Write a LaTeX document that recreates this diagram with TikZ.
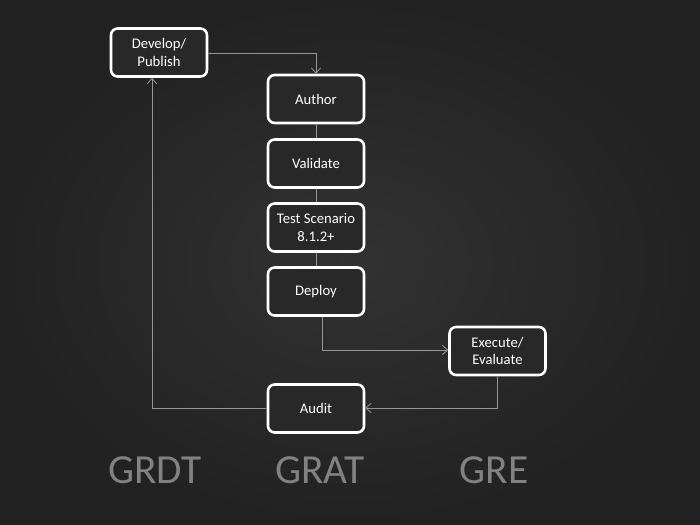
\documentclass[tikz,border=0pt]{standalone}
\usepackage{fontspec}
\setmainfont{Carlito}
\usetikzlibrary{arrows.meta,calc}
\definecolor{board}{RGB}{40,40,40}
\definecolor{boardlight}{RGB}{50,50,50}
\definecolor{boardedge}{RGB}{34,34,34}
\definecolor{conn}{RGB}{150,150,150}
\definecolor{lbl}{RGB}{130,130,130}
\tikzset{
  stepbox/.style={draw=white, line width=1.9pt, rounded corners=5pt, fill=board,
    minimum width=72pt, minimum height=36pt, align=center, text=white,
    font=\fontsize{11}{13}\selectfont, inner sep=2pt},
  wire/.style={draw=conn, line width=0.6pt},
  arr/.style={wire, -{Straight Barb[length=4pt,width=7pt]}},
  tier/.style={text=lbl, font=\fontsize{31}{31}\selectfont}
}
\begin{document}
\begin{tikzpicture}[x=0.75pt,y=-0.75pt]
\shade[inner color=boardlight, outer color=boardedge] (0,0) rectangle (700,525);
\useasboundingbox (0,0) rectangle (700,525);
\node[stepbox] (dev) at (159,52.5) {Develop/\\Publish};
\node[stepbox] (author) at (316,99) {Author};
\node[stepbox] (valid) at (316,163.5) {Validate};
\node[stepbox] (test) at (316,227.5) {Test Scenario\\8.1.2+};
\node[stepbox] (deploy) at (316,291.5) {Deploy};
\node[stepbox] (exec) at (497.5,351) {Execute/\\Evaluate};
\node[stepbox] (audit) at (316,408.5) {Audit};
\draw[arr] (dev.east |- 0,53) -- (316,53) -- (author.north);
\draw[wire] (author) -- (valid);
\draw[wire] (valid) -- (test);
\draw[wire] (test) -- (deploy);
\draw[arr] (deploy.south -| 322,0) -- (322,350) -- (exec.west |- 0,350);
\draw[arr] (exec.south) -- (497.5,408) -- (audit.east |- 0,408);
\draw[arr] (audit.west |- 0,408) -- (152,408) -- (dev.south -| 152,0);
\node[tier] (grdt) at (155,470) {GRDT};
\node[tier] (grat) at (320,470) {GRAT};
\node[tier] (gre) at (494,470) {GRE};
\end{tikzpicture}
\end{document}
